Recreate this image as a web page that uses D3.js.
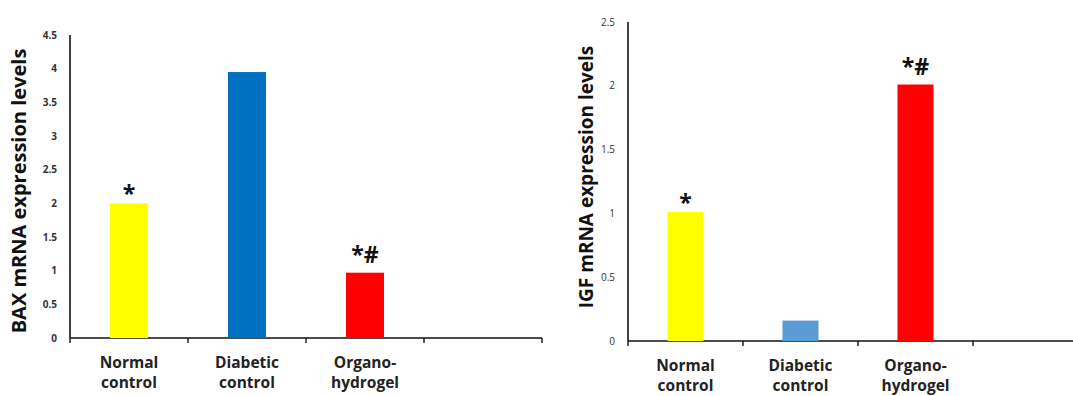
<!DOCTYPE html>
<html lang="en">
	<head>
		<meta charset="utf-8">
		<title>BAX and IGF mRNA expression</title>
		<script src="https://d3js.org/d3.v7.min.js"></script>
		<style type="text/css">
			body { margin: 0; background: #fff; }
			text { font-family: "Open Sans", sans-serif; }
			.tick-label { font-size: 10px; font-weight: bold; fill: #333; }
			.cat-label { font-size: 15.5px; font-weight: bold; fill: #222; }
			.axis-title { font-weight: bold; fill: #111; }
			.mark { font-size: 23px; font-weight: bold; fill: #111; }
		</style>
	</head>
	<body>
		<script type="text/javascript">
			var w = 1073;
			var h = 396;

			// Categories (4th band is empty in the original figure)
			var categories = [["Normal", "control"], ["Diabetic", "control"], ["Organo-", "hydrogel"], []];

			// BAX panel
			var baxValues = [2.0, 3.95, 0.97];
			var baxMarks = ["*", "", "*#"];
			var baxColors = ["#ffff00", "#0070c0", "#ff0000"];
			var baxTicks = [0, 0.5, 1, 1.5, 2, 2.5, 3, 3.5, 4, 4.5];

			// IGF panel
			var igfValues = [1.01, 0.16, 2.01];
			var igfMarks = ["*", "", "*#"];
			var igfColors = ["#ffff00", "#5b9bd5", "#ff0000"];
			var igfTicks = [0, 0.5, 1, 1.5, 2, 2.5];

			var svg = d3.select("body")
				.append("svg")
				.attr("width", w)
				.attr("height", h);

			function drawPanel(cfg) {
				var xScale = d3.scaleBand()
					.domain(d3.range(categories.length))
					.range([cfg.left, cfg.left + cfg.band * categories.length]);

				var yScale = d3.scaleLinear()
					.domain([0, d3.max(cfg.ticks)])
					.range([cfg.bottom, cfg.top]);

				var g = svg.append("g");

				// y axis
				g.append("line")
					.attr("x1", cfg.left).attr("x2", cfg.left)
					.attr("y1", yScale(d3.max(cfg.ticks))).attr("y2", cfg.bottom)
					.attr("stroke", "#111").attr("stroke-width", 1.6);

				g.selectAll("text.tick-label")
					.data(cfg.ticks)
					.enter()
					.append("text")
					.attr("class", "tick-label")
					.attr("x", cfg.left - 13)
					.attr("y", function(d) { return yScale(d); })
					.attr("dy", "0.35em")
					.attr("text-anchor", "end")
					.style("font-weight", cfg.tickWeight)
					.text(function(d) { return d; });

				// x axis
				g.append("line")
					.attr("x1", cfg.left).attr("x2", cfg.axisEnd)
					.attr("y1", cfg.bottom).attr("y2", cfg.bottom)
					.attr("stroke", "#111").attr("stroke-width", 1.6);

				g.selectAll("line.xtick")
					.data(d3.range(categories.length + 1))
					.enter()
					.append("line")
					.attr("class", "xtick")
					.attr("x1", function(d) { return cfg.left + d * xScale.step(); })
					.attr("x2", function(d) { return cfg.left + d * xScale.step(); })
					.attr("y1", cfg.bottom)
					.attr("y2", cfg.bottom + 5)
					.attr("stroke", "#111").attr("stroke-width", 1.4);

				// bars
				var bw = cfg.barWidth;
				g.selectAll("rect.bar")
					.data(cfg.values)
					.enter()
					.append("rect")
					.attr("class", "bar")
					.attr("x", function(d, i) { return xScale(i) + xScale.bandwidth() / 2 - bw / 2; })
					.attr("y", function(d) { return yScale(d); })
					.attr("width", bw)
					.attr("height", function(d) { return cfg.bottom - yScale(d); })
					.attr("fill", function(d, i) { return cfg.colors[i]; });

				// significance marks
				g.selectAll("text.mark")
					.data(cfg.values)
					.enter()
					.append("text")
					.attr("class", "mark")
					.attr("x", function(d, i) { return xScale(i) + xScale.bandwidth() / 2; })
					.attr("y", function(d, i) { return yScale(d) - (cfg.marks[i].length > 1 ? 10 : 1); })
					.attr("text-anchor", "middle")
					.text(function(d, i) { return cfg.marks[i]; });

				// category labels
				var cat = g.selectAll("text.cat-label")
					.data(categories)
					.enter()
					.append("text")
					.attr("class", "cat-label")
					.attr("text-anchor", "middle")
					.attr("x", function(d, i) { return xScale(i) + xScale.bandwidth() / 2; })
					.attr("y", cfg.bottom + 30);
				cat.selectAll("tspan")
					.data(function(d) { return d; })
					.enter()
					.append("tspan")
					.attr("x", function() { return d3.select(this.parentNode).attr("x"); })
					.attr("dy", function(d, i) { return i === 0 ? 0 : 20; })
					.text(function(d) { return d; });

				// y axis title
				g.append("text")
					.attr("class", "axis-title")
					.attr("transform", "translate(" + cfg.titleX + "," + cfg.titleY + ") rotate(-90)")
					.attr("text-anchor", "middle")
					.attr("dy", "0.35em")
					.style("font-size", cfg.titleSize + "px")
					.text(cfg.title);
			}

			drawPanel({
				left: 70, band: 118, top: 35, bottom: 338, axisEnd: 542, barWidth: 38,
				values: baxValues, marks: baxMarks, colors: baxColors, ticks: baxTicks,
				tickWeight: "bold", title: "BAX mRNA expression levels", titleX: 19, titleY: 191, titleSize: 20
			});

			drawPanel({
				left: 628, band: 115, top: 22, bottom: 341, axisEnd: 1073, barWidth: 36,
				values: igfValues, marks: igfMarks, colors: igfColors, ticks: igfTicks,
				tickWeight: "normal", title: "IGF mRNA expression levels", titleX: 586, titleY: 177, titleSize: 19
			});
		</script>
	</body>
</html>
